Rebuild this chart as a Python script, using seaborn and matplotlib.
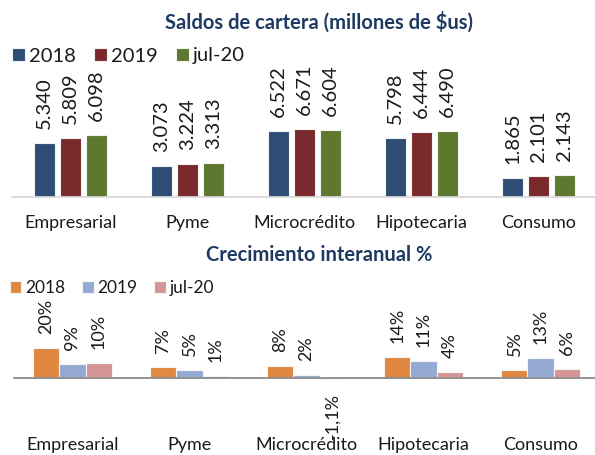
import matplotlib
matplotlib.use("Agg")
import matplotlib.pyplot as plt
import seaborn as sns
import pandas as pd
import numpy as np

# ---------------- data ----------------
categorias = ["Empresarial", "Pyme", "Microcrédito", "Hipotecaria", "Consumo"]
periodos = ["2018", "2019", "jul-20"]

saldo_2018 = [5.340, 3.073, 6.522, 5.798, 1.865]
saldo_2019 = [5.809, 3.224, 6.671, 6.444, 2.101]
saldo_jul20 = [6.098, 3.313, 6.604, 6.490, 2.143]

crec_2018 = [20, 7, 8, 14, 5]
crec_2019 = [9, 5, 2, 11, 13]
crec_jul20 = [10, 1, -1.1, 4, 6]

titulo_sup = "Saldos de cartera (millones de $us)"
titulo_inf = "Crecimiento interanual %"

col_sup = ["#2E4D75", "#7A2A2C", "#5E782F"]
col_inf = ["#E0883F", "#94AAD3", "#D49596"]
col_titulo = "#1F3A62"

# ---------------- frames ----------------
def long_df(series):
    rows = []
    for per, vals in zip(periodos, series):
        for c, v in zip(categorias, vals):
            rows.append({"cat": c, "per": per, "val": v})
    return pd.DataFrame(rows)

df_sup = long_df([saldo_2018, saldo_2019, saldo_jul20])
df_inf = long_df([crec_2018, crec_2019, crec_jul20])

# ---------------- style ----------------
sns.set_style("white")
plt.rcParams["font.family"] = ["Lato", "DejaVu Sans"]
plt.rcParams["text.color"] = "#1a1a1a"

W, H = 595, 455
fig = plt.figure(figsize=(W / 100, H / 100), dpi=100)

# top axes
ax1 = fig.add_axes([12 / W, (H - 197) / H, 585 / W, 10 * 10.15 / H])
sns.barplot(data=df_sup, x="cat", y="val", hue="per", order=categorias,
            hue_order=periodos, palette=col_sup, saturation=1, width=0.667,
            gap=0.23, errorbar=None, edgecolor="#f2f2f2", linewidth=0.8, ax=ax1)
ax1.set_xlim(-0.5, 4.5)
ax1.set_ylim(0, 10)
for cont in ax1.containers:
    vals = [b.get_height() for b in cont]
    ax1.bar_label(cont, labels=[f"{v:.3f}" for v in vals], padding=10,
                  rotation=90, fontsize=14.5, color="#1a1a1a")
for s in ["left", "top", "right"]:
    ax1.spines[s].set_visible(False)
ax1.spines["bottom"].set_color("#d9d9d9")
ax1.spines["bottom"].set_linewidth(1.3)
ax1.set_yticks([])
ax1.set_xlabel("")
ax1.set_ylabel("")
ax1.tick_params(axis="x", length=0, pad=13, labelsize=13, labelcolor="#1a1a1a")
sns.move_legend(ax1, loc="center left", bbox_to_anchor=(12 / W, 1 - 56 / H),
                bbox_transform=fig.transFigure, ncol=3, frameon=False, title=None,
                fontsize=14.5, handlelength=0.65, handleheight=0.65,
                handletextpad=0.2, columnspacing=0.9, borderpad=0, borderaxespad=0)

# bottom axes
ppu = 1.5
ax2 = fig.add_axes([14 / W, (H - (377.7 + 4 * ppu)) / H, 585 / W, 28 * ppu / H])
sns.barplot(data=df_inf, x="cat", y="val", hue="per", order=categorias,
            hue_order=periodos, palette=col_inf, saturation=1, width=0.667,
            errorbar=None, edgecolor="#f5f5f5", linewidth=0.8, ax=ax2)
ax2.set_xlim(-0.5, 4.5)
ax2.set_ylim(-4, 24)

def fmt_pct(v):
    if float(v).is_integer():
        return f"{v:.0f}%"
    return f"{v:.1f}%".replace(".", ",")

for cont in ax2.containers:
    vals = [b.get_height() for b in cont]
    ax2.bar_label(cont, labels=[fmt_pct(v) for v in vals], padding=10,
                  rotation=90, fontsize=13, color="#1a1a1a")
for s in ["left", "top", "right"]:
    ax2.spines[s].set_visible(False)
ax2.spines["bottom"].set_position(("data", 0))
ax2.spines["bottom"].set_color("#8c8c8c")
ax2.spines["bottom"].set_linewidth(1.3)
ax2.set_yticks([])
ax2.set_xlabel("")
ax2.set_ylabel("")
ax2.set_xticks(np.arange(len(categorias)))
ax2.set_xticklabels(categorias)
ax2.set_xticks(np.arange(len(categorias) + 1) - 0.5, minor=True)
ax2.tick_params(axis="x", which="major", length=0, pad=43, labelsize=13,
                labelcolor="#1a1a1a")
ax2.tick_params(axis="x", which="minor", direction="inout", length=8,
                width=1.3, color="#8c8c8c")
sns.move_legend(ax2, loc="center left", bbox_to_anchor=(10 / W, 1 - 288 / H),
                bbox_transform=fig.transFigure, ncol=3, frameon=False, title=None,
                fontsize=12.5, handlelength=0.65, handleheight=0.65,
                handletextpad=0.2, columnspacing=1.0, borderpad=0, borderaxespad=0)

# titles
fig.text(319 / W, 1 - 22 / H, titulo_sup, ha="center", va="center",
         fontsize=14.5, fontweight="bold", color=col_titulo)
fig.text(319 / W, 1 - 255 / H, titulo_inf, ha="center", va="center",
         fontsize=14.5, fontweight="bold", color=col_titulo)

fig.savefig("out.png", dpi=100)
